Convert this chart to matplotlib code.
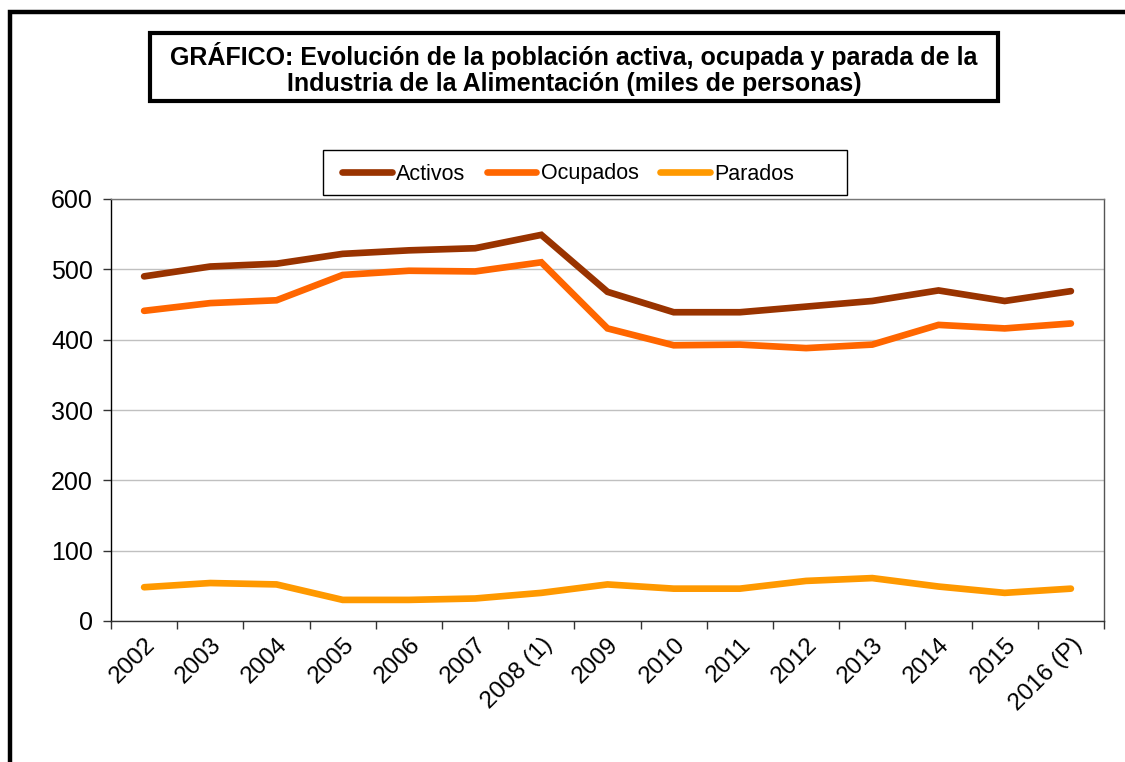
import matplotlib
matplotlib.use("Agg")
import matplotlib.pyplot as plt
from matplotlib.patches import Rectangle
import numpy as np

plt.rcParams['font.family'] = ['Liberation Sans', 'DejaVu Sans']

years = ["2002", "2003", "2004", "2005", "2006", "2007", "2008 (1)", "2009",
         "2010", "2011", "2012", "2013", "2014", "2015", "2016 (P)"]
activos = [490, 504, 508, 522, 527, 530, 549, 468, 439, 439, 447, 455, 470, 455, 469]
ocupados = [441, 452, 456, 492, 498, 497, 510, 416, 392, 393, 388, 393, 421, 416, 423]
parados = [48, 54, 52, 30, 30, 32, 40, 52, 46, 46, 57, 61, 49, 40, 46]

W, H = 1125, 762
fig = plt.figure(figsize=(W / 100, H / 100), dpi=100)
fig.patch.set_facecolor('white')

def fx(px):
    return px / W

def fy(py):
    return 1 - py / H

# outer frame (cut at right and bottom)
fig.patches.append(Rectangle((fx(10), fy(800)), fx(1200), fy(12) - fy(800),
                             transform=fig.transFigure, fill=False,
                             edgecolor='black', linewidth=3.2, zorder=0))

ax = fig.add_axes([fx(111), fy(621), fx(1104) - fx(111), fy(199) - fy(621)])
x = np.arange(len(years)) + 0.5
ax.plot(x, activos, color='#993300', lw=4.8, label='Activos', solid_capstyle='round', solid_joinstyle='miter')
ax.plot(x, ocupados, color='#FF6600', lw=4.8, label='Ocupados', solid_capstyle='round', solid_joinstyle='miter')
ax.plot(x, parados, color='#FF9900', lw=4.8, label='Parados', solid_capstyle='round', solid_joinstyle='miter')

ax.set_xlim(0, len(years))
ax.set_ylim(0, 600)
ax.set_yticks(range(0, 601, 100))
ax.yaxis.grid(True, color='#C0C0C0', lw=1.0)
ax.set_axisbelow(True)
ax.tick_params(axis='y', labelsize=18, length=5.5, width=1, color='#333333', pad=7.5)

ax.set_xticks(np.arange(len(years) + 1))
ax.set_xticklabels([])
ax.set_xticks(x, minor=True)
ax.set_xticklabels(years, minor=True, rotation=45, ha='right', va='top',
                   rotation_mode='anchor', fontsize=17.5)
ax.tick_params(axis='x', which='major', length=6, width=1, color='#333333')
ax.tick_params(axis='x', which='minor', length=0, pad=9)

ax.spines['left'].set_color('black')
ax.spines['bottom'].set_color('#333333')
ax.spines['right'].set_color('#555555')
ax.spines['top'].set_color('#777777')
for s in ax.spines.values():
    s.set_linewidth(1)

# title box
fig.patches.append(Rectangle((fx(150), fy(101)), fx(998) - fx(150), fy(33) - fy(101),
                             transform=fig.transFigure, fill=True, facecolor='white',
                             edgecolor='black', linewidth=3, zorder=1))
fig.text(fx(574), fy(69), "GRÁFICO: Evolución de la población activa, ocupada y parada de la\n"
         "Industria de la Alimentación (miles de personas)",
         ha='center', va='center', fontsize=18, fontweight='bold', linespacing=1.1, zorder=2)

# legend box
ax.add_patch(Rectangle((fx(323), fy(195)), fx(847) - fx(323), fy(150) - fy(195),
                       transform=fig.transFigure, fill=True, facecolor='white',
                       edgecolor='black', linewidth=1, zorder=4, clip_on=False))
leg = ax.legend(loc='center', bbox_to_anchor=(fx(568), fy(174)), bbox_transform=fig.transFigure,
                ncol=3, fontsize=15.5, frameon=False,
                handlelength=2.3, handletextpad=0.2, columnspacing=1.0, borderpad=0.0)
leg.set_zorder(6)

fig.savefig('out.png', dpi=100, facecolor='white')
